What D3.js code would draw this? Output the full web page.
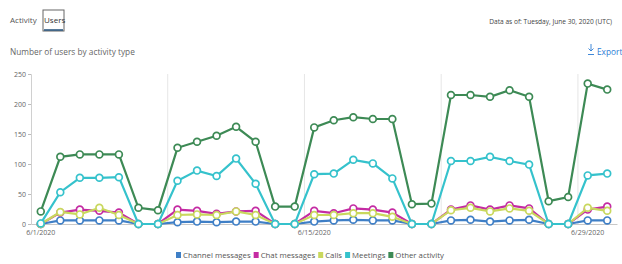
<!DOCTYPE html>
<html>
<head>
    <meta charset="utf-8" />
    <title></title>
    <script src="https://cdn.jsdelivr.net/npm/d3@7/dist/d3.min.js"></script>
    <style>
        body { margin: 0; background: #fff; font-family: "Open Sans", "Noto Sans", sans-serif; }
        svg text { fill: #555; }
    </style>
</head>
<body>
    <svg width="622" height="264"></svg>
    <script>
        var days = d3.range(1, 31).map(function (d) { return '6/' + d + '/2020'; });
        var tickLabels = ['6/1/2020', '6/15/2020', '6/29/2020'];
        var weekStarts = ['6/8/2020', '6/15/2020', '6/22/2020', '6/29/2020'];
        var yTicks = [0, 50, 100, 150, 200, 250];

        var seriesNames = ['Channel messages', 'Chat messages', 'Calls', 'Meetings', 'Other activity'];
        var seriesColors = ['#3f7fc6', '#c42ba3', '#c9d85e', '#35c2cc', '#3d8a55'];

        var channelMessages = [0, 6, 6, 6, 6, 0, 0, 3, 4, 3, 4, 4, 0, 0, 4, 6, 7, 6, 6, 0, 0, 6, 7, 4, 6, 7, 0, 0, 6, 6];
        var chatMessages = [0, 19, 24, 22, 19, 0, 0, 24, 22, 17, 21, 22, 0, 0, 22, 18, 26, 24, 19, 0, 0, 24, 31, 24, 31, 26, 0, 0, 24, 29];
        var calls = [0, 20, 16, 27, 15, 0, 0, 15, 16, 15, 21, 15, 0, 0, 15, 15, 18, 18, 12, 0, 0, 23, 27, 21, 26, 22, 0, 0, 27, 22];
        var meetings = [1, 53, 77, 77, 78, 0, 0, 72, 89, 80, 109, 67, 0, 0, 83, 84, 107, 101, 76, 0, 0, 105, 105, 112, 105, 99, 0, 0, 81, 84];
        var otherActivity = [21, 112, 116, 116, 116, 27, 23, 127, 137, 147, 162, 137, 29, 29, 161, 173, 178, 175, 175, 33, 34, 215, 215, 212, 223, 212, 38, 45, 234, 224];

        var seriesValues = [channelMessages, chatMessages, calls, meetings, otherActivity];

        var svg = d3.select('svg');

        // header
        svg.append('text').attr('x', 10).attr('y', 23).style('font-size', '8px').text('Activity');
        svg.append('rect').attr('x', 43).attr('y', 10).attr('width', 21).attr('height', 21)
            .attr('fill', 'none').attr('stroke', '#666').attr('stroke-width', 1);
        svg.append('line').attr('x1', 44).attr('x2', 63).attr('y1', 30).attr('y2', 30)
            .attr('stroke', '#1f4e79').attr('stroke-width', 1.5);
        svg.append('text').attr('x', 44).attr('y', 23).style('font-size', '8px').style('fill', '#333').text('Users');
        svg.append('text').attr('x', 612).attr('y', 24).attr('text-anchor', 'end')
            .style('font-size', '6.6px').style('fill', '#444').text('Data as of: Tuesday, June 30, 2020 (UTC)');
        svg.append('text').attr('x', 10).attr('y', 55).style('font-size', '8.3px').style('fill', '#666')
            .text('Number of users by activity type');
        svg.append('text').attr('x', 597).attr('y', 55)
            .style('font-size', '8.3px').style('fill', '#2a7bd4').text('Export');
        svg.append('path').attr('d', 'M591,44 v7 M588.5,48.5 l2.5,2.5 l2.5,-2.5 M588,54.5 h6')
            .attr('fill', 'none').attr('stroke', '#2a7bd4').attr('stroke-width', 0.9);

        var x = d3.scaleBand().domain(days).range([31, 617]);
        var y = d3.scaleLinear().domain([0, 250]).range([224, 74]);

        // week separators
        svg.selectAll('.week').data(weekStarts).enter().append('line')
            .attr('x1', function (d) { return x(d); })
            .attr('x2', function (d) { return x(d); })
            .attr('y1', 74).attr('y2', 224)
            .attr('stroke', '#e6e6e6').attr('stroke-width', 1);

        var yAxis = svg.append('g').attr('transform', 'translate(31,0)')
            .call(d3.axisLeft(y).tickValues(yTicks).tickSize(3).tickPadding(2));
        yAxis.select('.domain').attr('stroke', '#d0d0d0');
        yAxis.selectAll('.tick line').attr('stroke', '#bbb');
        yAxis.selectAll('text').style('font-size', '7px').style('fill', '#666').style('font-family', 'Open Sans, sans-serif');

        var xAxis = svg.append('g').attr('transform', 'translate(0,224)')
            .call(d3.axisBottom(x).tickValues(tickLabels).tickSize(0).tickPadding(6));
        xAxis.select('.domain').attr('stroke', '#c8c8c8');
        xAxis.selectAll('text').style('font-size', '7px').style('fill', '#666').style('font-family', 'Open Sans, sans-serif');

        var line = d3.line()
            .x(function (d, i) { return x(days[i]) + x.bandwidth() / 2; })
            .y(function (d) { return y(d); });

        var groups = svg.selectAll('.series').data(seriesValues).enter().append('g');

        groups.append('path')
            .attr('d', function (d) { return line(d); })
            .attr('fill', 'none')
            .attr('stroke', function (d, i) { return seriesColors[i]; })
            .attr('stroke-width', 2.2);

        groups.each(function (vals, si) {
            d3.select(this).selectAll('circle').data(vals).enter().append('circle')
                .attr('cx', function (d, i) { return x(days[i]) + x.bandwidth() / 2; })
                .attr('cy', function (d) { return y(d); })
                .attr('r', 3.4)
                .attr('fill', '#fff')
                .attr('stroke', seriesColors[si])
                .attr('stroke-width', 1.7);
        });

        // legend
        var legend = svg.append('g').attr('transform', 'translate(176,258)');
        var offs = 0;
        seriesNames.forEach(function (name, i) {
            var g = legend.append('g').attr('transform', 'translate(' + offs + ',0)');
            g.append('rect').attr('x', 0).attr('y', -6).attr('width', 5).attr('height', 6).attr('fill', seriesColors[i]);
            var t = g.append('text').attr('x', 7).attr('y', 0).style('font-size', '7.8px').style('fill', '#555').text(name);
            offs += 7 + t.node().getComputedTextLength() + 3;
        });
    </script>
</body>
</html>
